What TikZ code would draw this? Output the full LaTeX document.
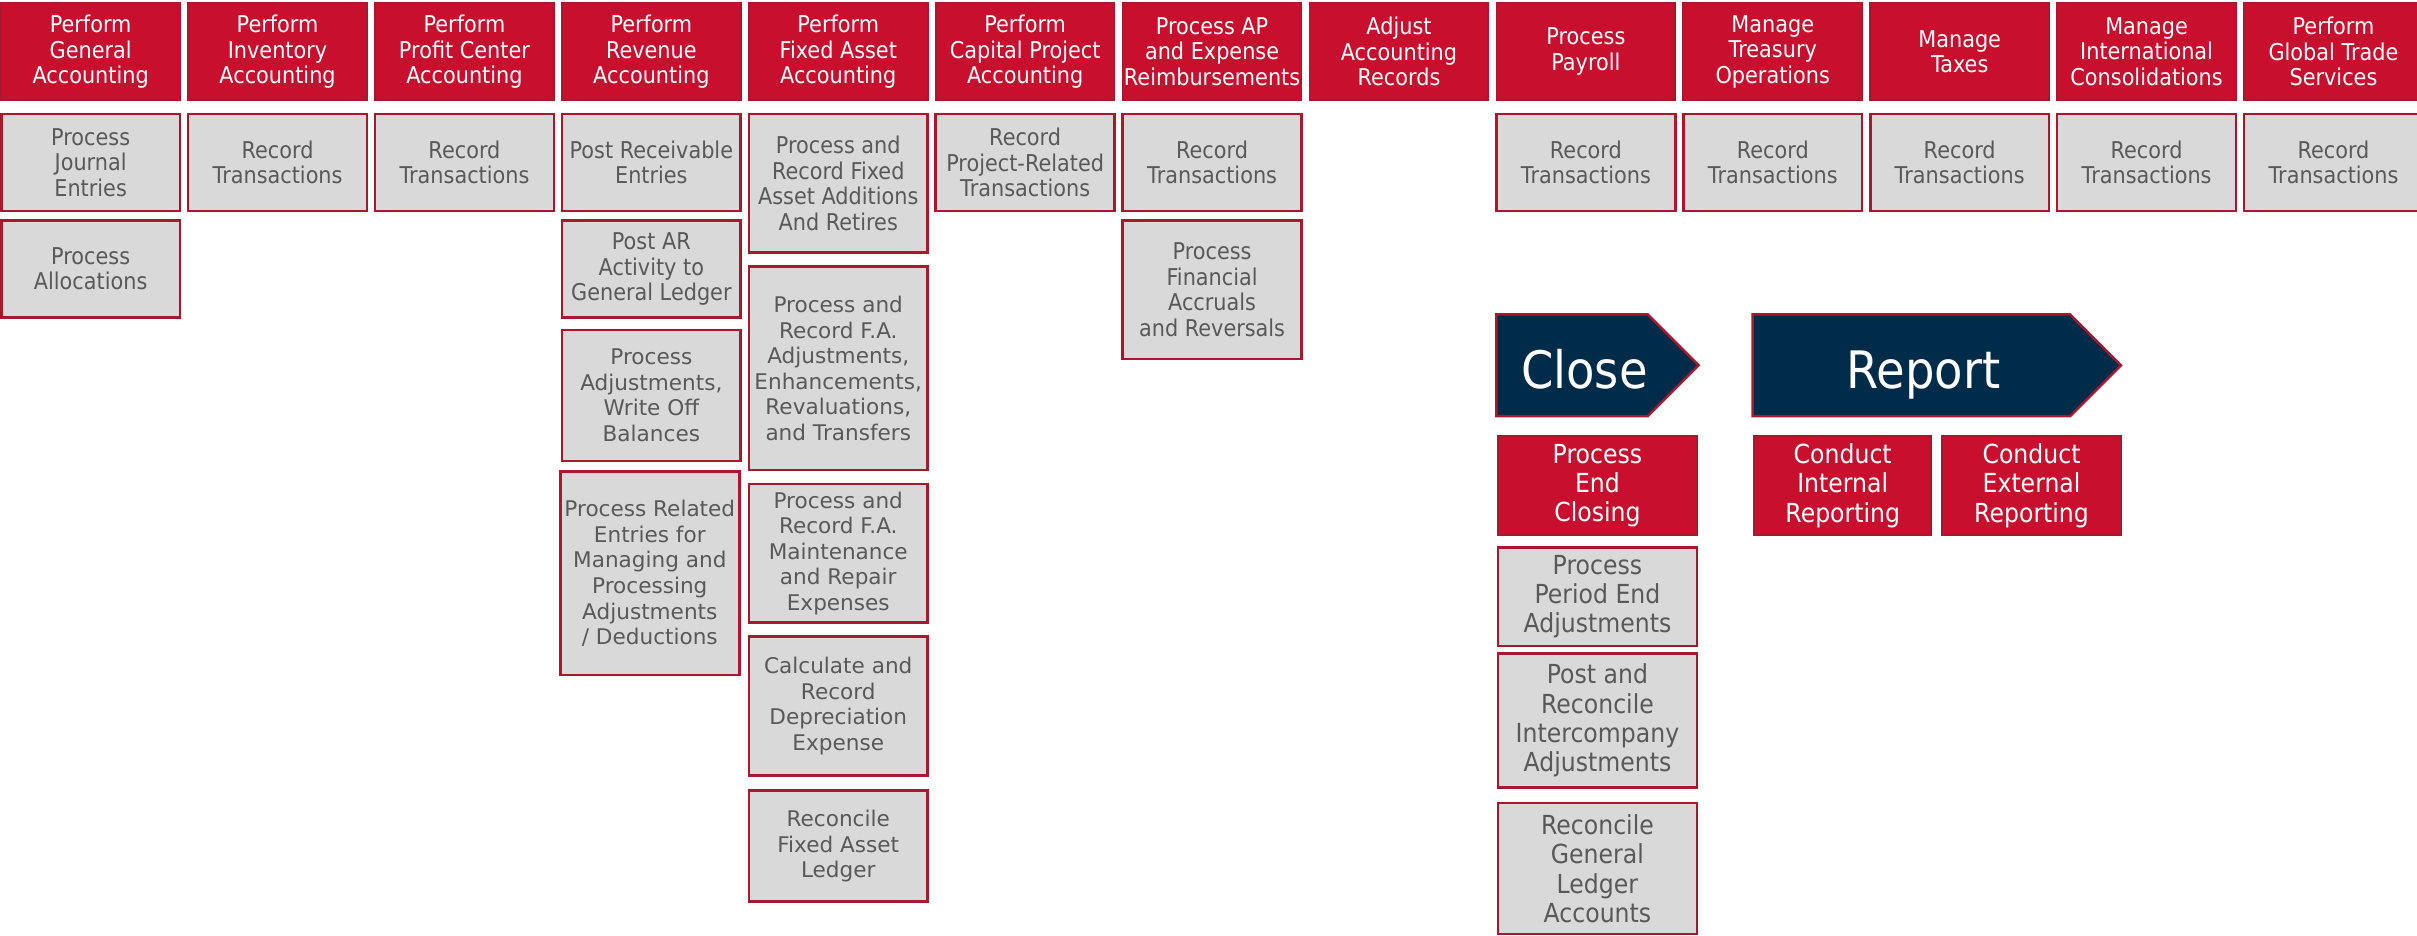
\documentclass[tikz,border=0pt]{standalone}
\usepackage{fontspec}
\setmainfont{DejaVu Sans}
\newfontfamily\narrowsans[FakeStretch=0.9]{DejaVu Sans}
\usepackage{tikz}
\usetikzlibrary{positioning,shapes.symbols}
\definecolor{procRed}{HTML}{C8102E}
\definecolor{procRedDark}{HTML}{A6192E}
\definecolor{procGrey}{HTML}{D9D9D9}
\definecolor{procText}{HTML}{595959}
\definecolor{procNavy}{HTML}{002B49}

\begin{document}
\begin{tikzpicture}[x=1pt,y=-1pt,
  topbox/.style={draw=procRedDark,line width=1.2pt,fill=procRed,text=white,
    minimum width=116pt,minimum height=63pt,inner sep=0pt,outer sep=0pt,align=center,
    font=\narrowsans\fontsize{15}{16.5}\selectfont},
  subbox/.style={draw=procRedDark,line width=1.7pt,fill=procGrey,text=procText,
    minimum width=116pt,minimum height=63pt,inner sep=0pt,outer sep=0pt,align=center,
    font=\narrowsans\fontsize{15}{16.5}\selectfont},
  widebox/.style={subbox,font=\fontsize{14}{16.6}\selectfont},
  phase/.style={shape=signal,signal to=east,signal pointer angle=90,
    draw=procRedDark,line width=1.6pt,fill=procNavy,text=white,minimum height=66pt,
    inner sep=0pt,outer sep=0pt,text height=30pt,text depth=0pt,
    font=\narrowsans\fontsize{33.5}{36}\selectfont},
  closebox/.style={topbox,minimum height=64pt,font=\narrowsans\fontsize{17}{19}\selectfont},
  closesub/.style={subbox,minimum width=129pt,minimum height=64pt,
    font=\narrowsans\fontsize{17}{19}\selectfont}]
  \useasboundingbox (0,0) rectangle (1568,607);

  % process areas
  \node[topbox,anchor=north west] (gen) at (0.8,2) {Perform\\General\\Accounting};
  \node[topbox,right=5.25pt of gen] (inv) {Perform\\Inventory\\Accounting};
  \node[topbox,right=5.25pt of inv] (pca) {Perform\\Profit Center\\Accounting};
  \node[topbox,right=5.25pt of pca] (rev) {Perform\\Revenue\\Accounting};
  \node[topbox,right=5.25pt of rev] (fa) {Perform\\Fixed Asset\\Accounting};
  \node[topbox,right=5.25pt of fa] (cap) {Perform\\Capital Project\\Accounting};
  \node[topbox,right=5.25pt of cap] (ap) {Process AP\\and Expense\\Reimbursements};
  \node[topbox,right=5.25pt of ap] (adj) {Adjust\\Accounting\\Records};
  \node[topbox,right=5.25pt of adj] (pay) {Process\\Payroll};
  \node[topbox,right=5.25pt of pay] (tre) {Manage\\Treasury\\Operations};
  \node[topbox,right=5.25pt of tre] (tax) {Manage\\Taxes};
  \node[topbox,right=5.25pt of tax] (intl) {Manage\\International\\Consolidations};
  \node[topbox,right=5.25pt of intl] (gts) {Perform\\Global Trade\\Services};

  % activities
  \node[subbox,below=9pt of gen] (gen1) {Process\\Journal\\Entries};
  \node[subbox,below=6pt of gen1] (gen2) {Process\\Allocations};
  \node[subbox,below=9pt of inv] (inv1) {Record\\Transactions};
  \node[subbox,below=9pt of pca] (pca1) {Record\\Transactions};
  \node[subbox,below=9pt of rev] (rev1) {Post Receivable\\Entries};
  \node[subbox,below=6pt of rev1] (rev2) {Post AR\\Activity to\\General Ledger};
  \node[widebox,below=8pt of rev2,minimum height=85pt] (rev3) {Process\\Adjustments,\\Write Off\\Balances};
  \node[widebox,below=7pt of rev3,minimum height=132pt,xshift=-1pt] (rev4) {%
    Process Related\\Entries for\\Managing and\\Processing\\Adjustments\\/ Deductions};
  \node[subbox,below=9pt of fa,minimum height=90pt] (fa1) {%
    Process and\\Record Fixed\\Asset Additions\\And Retires};
  \node[widebox,below=9pt of fa1,minimum height=132pt] (fa2) {%
    Process and\\Record F.A.\\Adjustments,\\Enhancements,\\Revaluations,\\and Transfers};
  \node[widebox,below=9pt of fa2,minimum height=90pt] (fa3) {%
    Process and\\Record F.A.\\Maintenance\\and Repair\\Expenses};
  \node[widebox,below=9pt of fa3,minimum height=90pt] (fa4) {%
    Calculate and\\Record\\Depreciation\\Expense};
  \node[widebox,below=10pt of fa4,minimum height=72pt] (fa5) {Reconcile\\Fixed Asset\\Ledger};
  \node[subbox,below=9pt of cap] (cap1) {Record\\Project-Related\\Transactions};
  \node[subbox,below=9pt of ap] (ap1) {Record\\Transactions};
  \node[subbox,below=6pt of ap1,minimum height=90pt] (ap2) {%
    Process\\Financial\\Accruals\\and Reversals};
  \node[subbox,below=9pt of pay] (pay1) {Record\\Transactions};
  \node[subbox,below=9pt of tre] (tre1) {Record\\Transactions};
  \node[subbox,below=9pt of tax] (tax1) {Record\\Transactions};
  \node[subbox,below=9pt of intl] (intl1) {Record\\Transactions};
  \node[subbox,below=9pt of gts] (gts1) {Record\\Transactions};

  % close and report
  \node[phase,minimum width=131pt,below=67pt of pay1.south west,anchor=north west] (close) {%
    \hspace*{16pt}Close};
  \node[phase,minimum width=239pt,right=35pt of close] (report) {\hspace*{16pt}Report};
  \node[closebox,minimum width=129pt,below=13pt of close.south west,anchor=north west,xshift=1pt] (pec) {%
    Process\\End\\Closing};
  \node[closebox,minimum width=115pt,below=13pt of report.south west,anchor=north west,xshift=1pt] (cir) {%
    Conduct\\Internal\\Reporting};
  \node[closebox,minimum width=116pt,right=7pt of cir] (cer) {Conduct\\External\\Reporting};
  \node[closesub,below=8pt of pec] (cl1) {Process\\Period End\\Adjustments};
  \node[closesub,below=5pt of cl1,minimum height=87pt] (cl2) {%
    Post and\\Reconcile\\Intercompany\\Adjustments};
  \node[closesub,below=10pt of cl2,minimum height=85pt] (cl3) {Reconcile\\General\\Ledger\\Accounts};
\end{tikzpicture}
\end{document}
